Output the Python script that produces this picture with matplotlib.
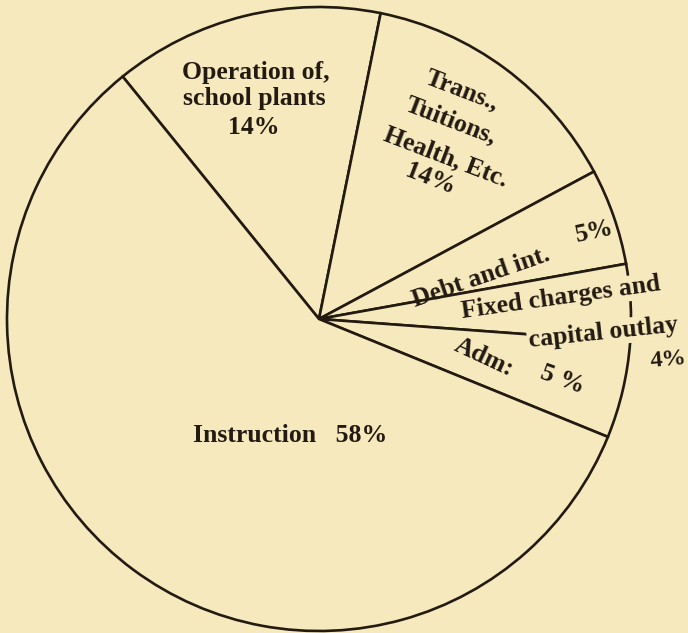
import matplotlib.pyplot as plt

# pie shares (percent), clockwise from the upper-left boundary
slices = ['Operation of school plants', 'Trans., Tuitions, Health, Etc.',
          'Debt and int.', 'Fixed charges and capital outlay', 'Adm.', 'Instruction']
shares = [14, 14, 5, 4, 5, 58]

W, H = 688, 633
BG = '#f6e9bd'
INK = '#231a12'
FONT = 'Liberation Serif'

fig = plt.figure(figsize=(W / 100, H / 100), dpi=100, facecolor=BG)
ax = fig.add_axes([0, 0, 1, 1])
ax.set_facecolor(BG)

ax.pie(shares, center=(319, H - 319), radius=312, startangle=129,
       counterclock=False, frame=True,
       wedgeprops=dict(facecolor=BG, edgecolor=INK, linewidth=1.9))

ax.set_xlim(0, W)
ax.set_ylim(0, H)
ax.set_aspect('equal')
ax.axis('off')


def label(x, y, s, rot=0, size=18.5, hide=False):
    # x, y in image pixels (y down)
    kw = dict(ha='center', va='center', rotation=rot, rotation_mode='anchor',
              fontsize=size, fontfamily=FONT, fontweight='bold', color=INK,
              zorder=5)
    if hide:
        kw['bbox'] = dict(facecolor=BG, edgecolor='none', pad=1.0)
    ax.text(x, H - y, s, **kw)


label(256, 72, 'Operation of,')
label(254, 98, 'school plants')
label(254, 128, '14%')

label(462, 90, 'Trans.,', rot=-21)
label(451, 121, 'Tuitions,', rot=-21)
label(446, 157, 'Health, Etc.', rot=-21)
label(430, 179, '14%', rot=-21)

label(481, 277, 'Debt and int.', rot=19)
label(594, 232, '5%', rot=12)

label(561, 298, 'Fixed charges and', rot=8, hide=True)
label(603, 333, 'capital outlay', rot=6, hide=True)
label(668, 360, '4%', rot=5, size=17.5)

label(484, 357, 'Adm:', rot=-25)
label(562, 380, '5 %', rot=-20)

label(290, 436, 'Instruction   58%')

fig.savefig('out.png', dpi=100, facecolor=BG)
